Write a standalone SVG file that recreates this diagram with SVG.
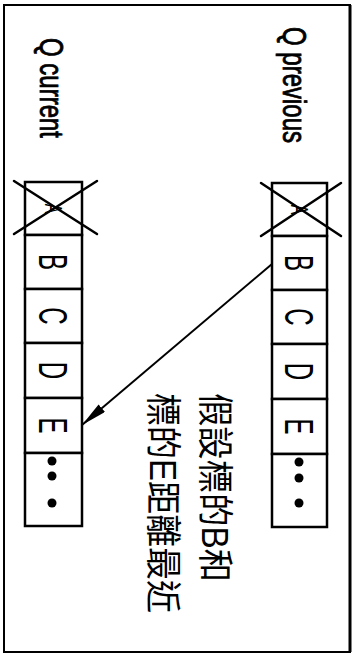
<svg xmlns="http://www.w3.org/2000/svg" width="355" height="655" viewBox="0 0 355 655">
<defs>
<style>
.frame{fill:none;stroke:#000;stroke-width:2}
.cell{fill:#fff;stroke:#000;stroke-width:2.5}
.x{stroke:#000;stroke-width:2.5;stroke-linecap:round}
.lbl{font-family:"Liberation Sans",Arial,sans-serif;font-size:24px;fill:#000;stroke:#000;stroke-width:0.6}
.let{font-family:"Liberation Sans",Arial,sans-serif;font-size:40px;fill:#000;text-anchor:middle}
.cjk{font-family:"Liberation Sans","Noto Sans CJK TC",sans-serif;font-size:36px;fill:#000;dominant-baseline:central}
.dot{fill:#000}
.conn{stroke:#000;stroke-width:2;fill:none}
</style>
<marker id="ah" markerUnits="userSpaceOnUse" markerWidth="26" markerHeight="10" refX="26" refY="5" orient="auto">
<path d="M0,0 L26,5 L0,10 z" fill="#000"/>
</marker>
</defs>
<rect width="355" height="655" fill="#fff"/>
<rect class="frame" x="4" y="5" width="346" height="647"/>
<line x1="350" y1="5" x2="350" y2="652" stroke="#000" stroke-width="3"/>

<g id="q-previous">
<text class="lbl" transform="translate(283,27) rotate(90) scale(1,1.35)">Q previous</text>
<g id="prev-A">
<rect class="cell" x="272" y="183" width="55" height="53"/>
<text class="let" style="font-size:24px" transform="translate(299.5,209.5) rotate(90) scale(0.6,1)" y="8.6">A</text>
<line class="x" x1="261" y1="183" x2="341" y2="236"/>
<line class="x" x1="341" y1="183" x2="261" y2="236"/>
</g>
<g id="prev-B">
<rect class="cell" x="272" y="236" width="55" height="54"/>
<text class="let" transform="translate(299.5,263) rotate(90) scale(0.6,1)" y="14.3">B</text>
</g>
<g id="prev-C">
<rect class="cell" x="272" y="290" width="55" height="54"/>
<text class="let" transform="translate(299.5,317) rotate(90) scale(0.6,1)" y="14.3">C</text>
</g>
<g id="prev-D">
<rect class="cell" x="272" y="344" width="55" height="55"/>
<text class="let" transform="translate(299.5,371.5) rotate(90) scale(0.6,1)" y="14.3">D</text>
</g>
<g id="prev-E">
<rect class="cell" x="272" y="399" width="55" height="55"/>
<text class="let" transform="translate(299.5,426.5) rotate(90) scale(0.6,1)" y="14.3">E</text>
</g>
<g id="prev-more">
<rect class="cell" x="272" y="454" width="55" height="73"/>
<circle class="dot" cx="299" cy="462" r="4.5"/>
<circle class="dot" cx="299" cy="478" r="4.5"/>
<circle class="dot" cx="299" cy="503" r="4.5"/>
</g>
</g>

<g id="q-current">
<text class="lbl" transform="translate(40,38) rotate(90) scale(1,1.35)">Q current</text>
<g id="cur-A">
<rect class="cell" x="25" y="182" width="57" height="53"/>
<text class="let" style="font-size:24px" transform="translate(53.5,208.5) rotate(90) scale(0.6,1)" y="8.6">A</text>
<line class="x" x1="14" y1="181" x2="97" y2="234"/>
<line class="x" x1="97" y1="181" x2="14" y2="234"/>
</g>
<g id="cur-B">
<rect class="cell" x="25" y="235" width="57" height="54"/>
<text class="let" transform="translate(53.5,262) rotate(90) scale(0.6,1)" y="14.3">B</text>
</g>
<g id="cur-C">
<rect class="cell" x="25" y="289" width="57" height="54"/>
<text class="let" transform="translate(53.5,316) rotate(90) scale(0.6,1)" y="14.3">C</text>
</g>
<g id="cur-D">
<rect class="cell" x="25" y="343" width="57" height="55"/>
<text class="let" transform="translate(53.5,370.5) rotate(90) scale(0.6,1)" y="14.3">D</text>
</g>
<g id="cur-E">
<rect class="cell" x="25" y="398" width="57" height="55"/>
<text class="let" transform="translate(53.5,425.5) rotate(90) scale(0.6,1)" y="14.3">E</text>
</g>
<g id="cur-more">
<rect class="cell" x="25" y="453" width="57" height="73"/>
<circle class="dot" cx="52" cy="461" r="4.5"/>
<circle class="dot" cx="52" cy="476" r="4.5"/>
<circle class="dot" cx="52" cy="503" r="4.5"/>
</g>
</g>

<g id="note">
<text class="cjk" transform="translate(214,393) rotate(90)" textLength="189" lengthAdjust="spacingAndGlyphs">假設標的B和</text>
<text class="cjk" transform="translate(162,393) rotate(90)" textLength="220" lengthAdjust="spacingAndGlyphs">標的E距離最近</text>
</g>

<g id="connectors">
<line class="conn" x1="272" y1="264" x2="82" y2="425" marker-end="url(#ah)"/>
</g>
</svg>
